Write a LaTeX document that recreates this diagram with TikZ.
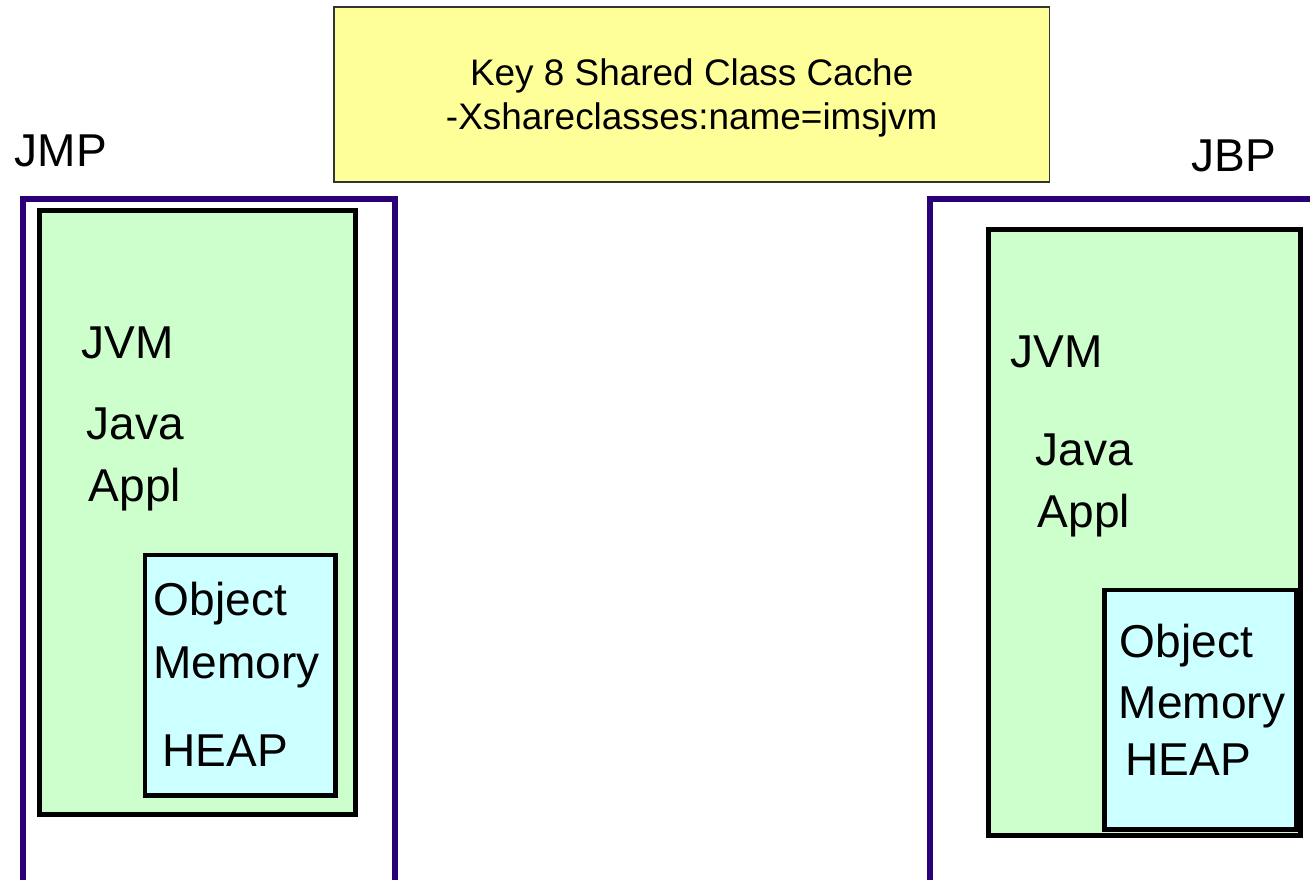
\documentclass[tikz,border=0pt]{standalone}
\usepackage{fontspec}
\setmainfont{Liberation Sans}
\definecolor{cachey}{HTML}{FFFF99}
\definecolor{jvmg}{HTML}{CCFFCC}
\definecolor{heapc}{HTML}{CCFFFF}
\definecolor{regionp}{HTML}{2A0078}

\begin{document}
\begin{tikzpicture}[x=0.01cm,y=-0.01cm,
  lbl/.style={inner sep=0pt,anchor=base west,font=\fontsize{13.1}{15}\selectfont},
  region/.style={draw=regionp,line width=1.5pt},
  jvmbox/.style={draw=black,fill=jvmg,line width=1.4pt,anchor=north west,inner sep=0pt,outer sep=0pt},
  heapbox/.style={draw=black,fill=heapc,line width=1.4pt,anchor=north west,inner sep=0pt,outer sep=0pt}]
  \useasboundingbox (0,0) rectangle (1310,880);
  \node[draw=black!80,fill=cachey,line width=0.4pt,anchor=north west,outer sep=0pt,
    minimum width=7.15cm,minimum height=1.75cm,align=center,
    font=\fontsize{10.5}{12.4}\selectfont] (cache) at (334,7)
    {\rule{0pt}{9.4pt}Key 8 Shared Class Cache\\-Xshareclasses:name=imsjvm};
  \draw[region] (23,890) -- (23,199) -- (395,199) -- (395,890);
  \draw[region] (930,890) -- (930,199) -- (1320,199);
  \node[lbl] (jmp) at (14,167) {JMP};
  \node[lbl] (jbp) at (1191,172) {JBP};
  \node[jvmbox,minimum width=3.16cm,minimum height=6.035cm] (jvml) at (39.5,210.5) {};
  \node[heapbox,minimum width=1.905cm,minimum height=2.405cm] (heapl) at (145,555) {};
  \node[jvmbox,minimum width=3.115cm,minimum height=6.06cm] (jvmr) at (988.5,229.5) {};
  \node[heapbox,minimum width=1.915cm,minimum height=2.39cm] (heapr) at (1104.5,590) {};
  \node[lbl] (jvmlt) at (81,359) {JVM};
  \node[lbl] (javal) at (86,440) {Java};
  \node[lbl] (appll) at (88,502) {Appl};
  \node[lbl] (objl) at (153,616) {Object};
  \node[lbl] (meml) at (152.5,679) {Memory};
  \node[lbl] (hpl) at (162,766) {HEAP};
  \node[lbl] (jvmrt) at (1010,368) {JVM};
  \node[lbl] (javar) at (1035,466) {Java};
  \node[lbl] (applr) at (1037,528) {Appl};
  \node[lbl] (objr) at (1119,657) {Object};
  \node[lbl] (memr) at (1118,718) {Memory};
  \node[lbl] (hpr) at (1125,775) {HEAP};
\end{tikzpicture}
\end{document}
